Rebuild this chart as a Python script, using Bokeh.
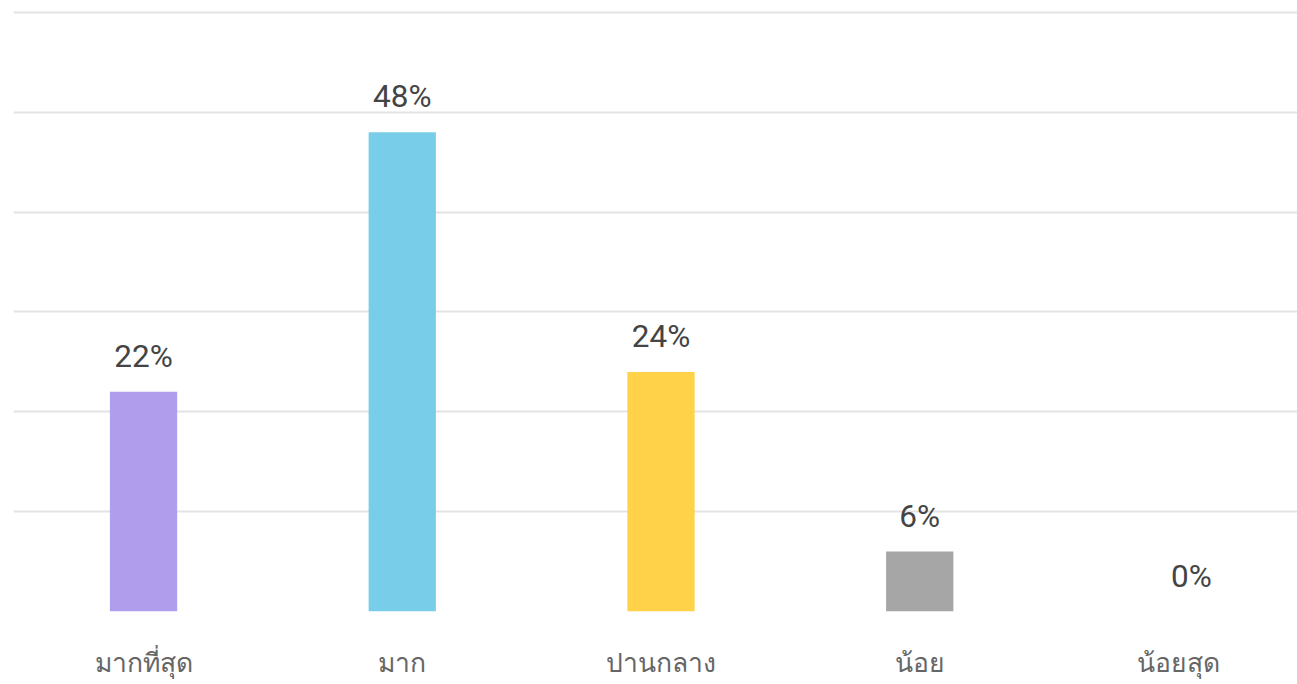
from bokeh.plotting import figure
from bokeh.models import Range1d, FixedTicker, ColumnDataSource
from bokeh.embed import file_html
from bokeh.resources import INLINE
from bokeh.core.properties import value

categories = ["มากที่สุด", "มาก", "ปานกลาง", "น้อย", "น้อยสุด"]
percents = [22, 48, 24, 6, 0]
bar_colors = ["#B09DEC", "#78CDE8", "#FFD24A", "#A6A6A6", "#A6A6A6"]
label_texts = [f"{v}%" for v in percents]
label_shift = [0, 0, 0, 0, 13]

xs = [i + 0.5 for i in range(len(categories))]
src = ColumnDataSource(dict(x=xs, top=percents, color=bar_colors,
                            label=label_texts, dx=label_shift))

p = figure(width=1297, height=680, output_backend="svg", toolbar_location=None,
           x_range=Range1d(-0.0025, 4.96), y_range=Range1d(0, 60.4),
           min_border_left=13, min_border_right=0, min_border_top=8,
           min_border_bottom=0)
p.outline_line_color = None
p.background_fill_color = "white"

p.vbar(x="x", top="top", width=0.26, bottom=0, fill_color="color",
       line_color=None, source=src)
p.text(x="x", y="top", text="label", source=src, x_offset="dx", y_offset=-17,
       text_align="center", text_baseline="bottom", text_font_size="31.5px",
       text_color="#444444", text_font=value("Roboto"))

p.yaxis.visible = False
p.ygrid.ticker = FixedTicker(ticks=[0, 10, 20, 30, 40, 50, 60])
p.ygrid.grid_line_color = "#E3E3E3"
p.ygrid.grid_line_width = 2
p.xgrid.visible = False

ax = p.xaxis[0]
ax.ticker = FixedTicker(ticks=xs)
ax.major_label_overrides = {x: c for x, c in zip(xs, categories)}
ax.axis_line_color = None
ax.major_tick_line_color = None
ax.minor_tick_line_color = None
ax.major_label_text_font_size = "26.5px"
ax.major_label_text_color = "#666666"
ax.major_label_standoff = 30

open("out.html", "w").write(file_html(p, INLINE))
